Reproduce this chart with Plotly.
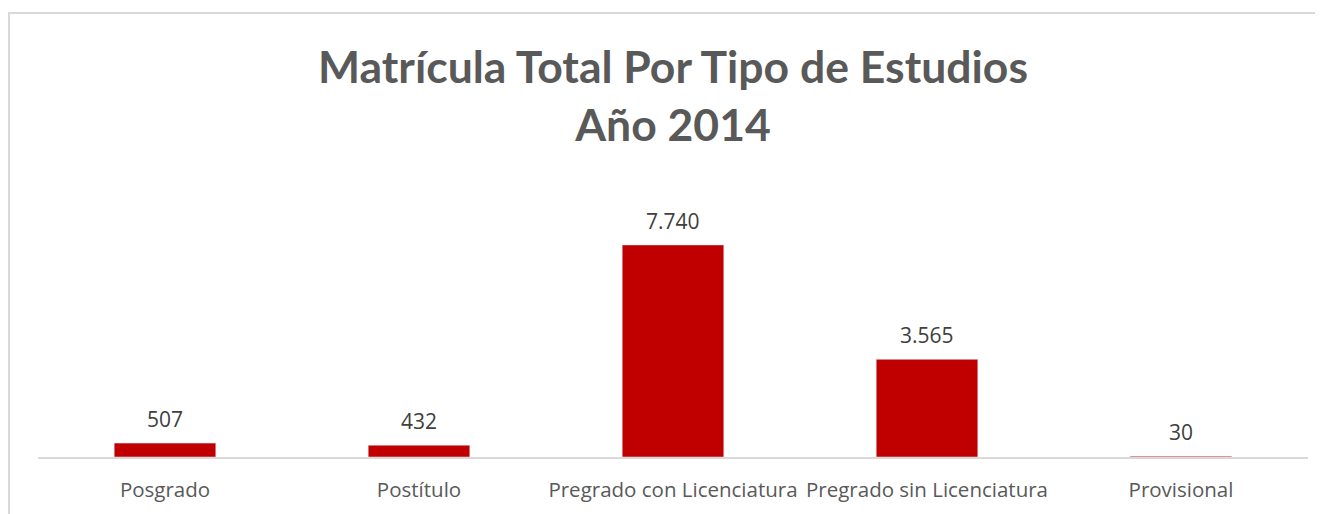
import plotly.graph_objects as go

categories = ["Posgrado", "Postítulo", "Pregrado con Licenciatura", "Pregrado sin Licenciatura", "Provisional"]
values = [507, 432, 7740, 3565, 30]

# page has an 8px body margin, so the figure is offset by (8, 8)
OFF = 8
W, H = 1323 - OFF, 514 - OFF
base_y = 457 - OFF
top_y = 183 - OFF
ml = 38 - OFF
mr = W - (1308 - OFF)
mt, mb = top_y, H - base_y
pw = W - ml - mr
ph = H - mt - mb

LABEL_FONT = "Open Sans, Lato, sans-serif"

fig = go.Figure()
fig.add_trace(go.Bar(
    x=categories, y=values, marker_color="#C00000", width=0.4,
    hoverinfo="x+y",
))

for c, v in zip(categories, values):
    fig.add_annotation(
        x=c, y=v, text=f"{v:,}".replace(",", "."), showarrow=False,
        yanchor="bottom", yshift=8,
        font=dict(family=LABEL_FONT, size=21, color="#404040"),
    )

fig.add_annotation(
    xref="paper", yref="paper", x=0.5, y=(base_y - (94 - OFF)) / ph,
    text="<b>Matrícula Total Por Tipo de Estudios<br>Año 2014</b>",
    showarrow=False, xanchor="center", yanchor="middle",
    font=dict(family="Lato, sans-serif", size=44.5, color="#595959"),
)

# outer chart border
fig.add_shape(
    type="rect", xref="paper", yref="paper",
    x0=(9 - OFF - ml) / pw, x1=(1340 - OFF - ml) / pw,
    y0=(base_y - 540) / ph, y1=(base_y - (13 - OFF)) / ph,
    line=dict(color="#D9D9D9", width=2), layer="below",
)

fig.update_layout(
    width=W, height=H,
    margin=dict(l=ml, r=mr, t=mt, b=mb),
    paper_bgcolor="white", plot_bgcolor="white",
    showlegend=False,
    xaxis=dict(
        showline=True, linecolor="#D9D9D9", linewidth=1.5,
        ticks="", ticklabelstandoff=14,
        tickfont=dict(family=LABEL_FONT, size=20.5, color="#595959"),
        showgrid=False,
    ),
    yaxis=dict(
        range=[0, 10000], visible=False, showgrid=False, zeroline=False,
    ),
)

fig.write_html("out.html")
